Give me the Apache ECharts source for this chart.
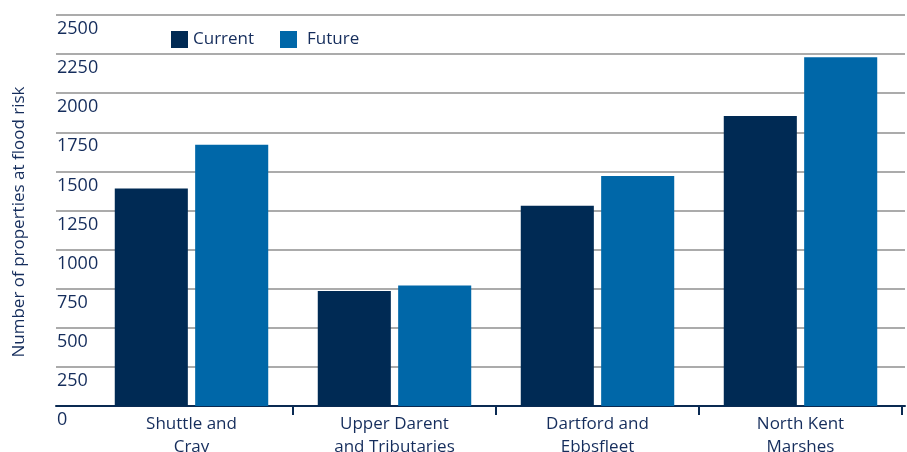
<!DOCTYPE html>
<html><head><meta charset="utf-8">
<script src="https://cdn.jsdelivr.net/npm/echarts@6/dist/echarts.min.js"></script>
<style>html,body{margin:0;padding:0;background:#fff}#c{width:907px;height:452px}</style>
</head><body><div id="c"></div>
<script>
const categories = ['Shuttle and\nCray', 'Upper Darent\nand Tributaries', 'Dartford and\nEbbsfleet', 'North Kent\nMarshes'];
const seriesNames = ['Current', 'Future'];
const currentValues = [1390, 735, 1280, 1855];
const futureValues = [1670, 770, 1470, 2230];
const yTicks = [0, 250, 500, 750, 1000, 1250, 1500, 1750, 2000, 2250, 2500];
const yTitle = 'Number of properties at flood risk';

const FONT = 'Open Sans';
const TEXT = '#152d5c';
const C_CUR = '#002a54';
const C_FUT = '#0067a8';
const NAVY = '#0a2a52';
const yMin = yTicks[0], yMax = yTicks[yTicks.length - 1], yStep = yTicks[1] - yTicks[0];

const chart = echarts.init(document.getElementById('c'), null, {renderer: 'canvas'});
chart.setOption({
  animation: false,
  backgroundColor: '#fff',
  textStyle: {fontFamily: FONT},
  grid: [
    {left: 56, right: 2, top: 15, bottom: 46, containLabel: false, outerBoundsMode: 'none'},
    {left: 90, right: 5, top: 15, bottom: 46, containLabel: false, outerBoundsMode: 'none'}
  ],
  legend: [
    {data: [seriesNames[0]], left: 166, top: 26, itemWidth: 17, itemHeight: 17, itemGap: 0,
     icon: 'rect', textStyle: {fontFamily: FONT, fontSize: 17, color: TEXT, padding: [0, 0, 0, 0]}},
    {data: [seriesNames[1]], left: 275, top: 26, itemWidth: 17, itemHeight: 17, itemGap: 0,
     icon: 'rect', textStyle: {fontFamily: FONT, fontSize: 17, color: TEXT, padding: [0, 0, 0, 5]}}
  ],
  graphic: [{
    type: 'text', x: 19, y: 222, rotation: Math.PI / 2,
    style: {text: yTitle, fontFamily: FONT, fontSize: 17, fill: TEXT, align: 'center', verticalAlign: 'middle'}
  }],
  xAxis: [
    {gridIndex: 0, type: 'value', min: 0, max: 1, show: true,
     axisLine: {show: true, lineStyle: {color: NAVY, width: 2}},
     axisTick: {show: false}, axisLabel: {show: false}, splitLine: {show: false}},
    {gridIndex: 1, type: 'category', data: categories,
     axisLine: {show: false},
     axisTick: {show: true, length: 9, lineStyle: {color: NAVY, width: 2},
                interval: function (i) { return i !== 0; }},
     axisLabel: {fontFamily: FONT, fontSize: 17, color: TEXT, margin: 7, lineHeight: 23}}
  ],
  yAxis: [
    {gridIndex: 0, type: 'value', min: yMin, max: yMax, interval: yStep,
     axisLine: {show: false}, axisTick: {show: false},
     axisLabel: {inside: true, margin: 1, align: 'left', verticalAlign: 'top', padding: [5, 0, 0, 0],
                 fontFamily: FONT, fontSize: 18, color: TEXT, formatter: function (v) { return String(v); }},
     splitLine: {show: true, lineStyle: {color: '#8f8f8f', width: 1.5}}},
    {gridIndex: 1, type: 'value', min: yMin, max: yMax, interval: yStep, show: false,
     splitLine: {show: false}}
  ],
  series: [
    {name: seriesNames[0], type: 'bar', xAxisIndex: 1, yAxisIndex: 1, data: currentValues,
     itemStyle: {color: C_CUR}, barWidth: '36%', barGap: '10%'},
    {name: seriesNames[1], type: 'bar', xAxisIndex: 1, yAxisIndex: 1, data: futureValues,
     itemStyle: {color: C_FUT}, barWidth: '36%', barGap: '10%'}
  ]
});
</script></body></html>
